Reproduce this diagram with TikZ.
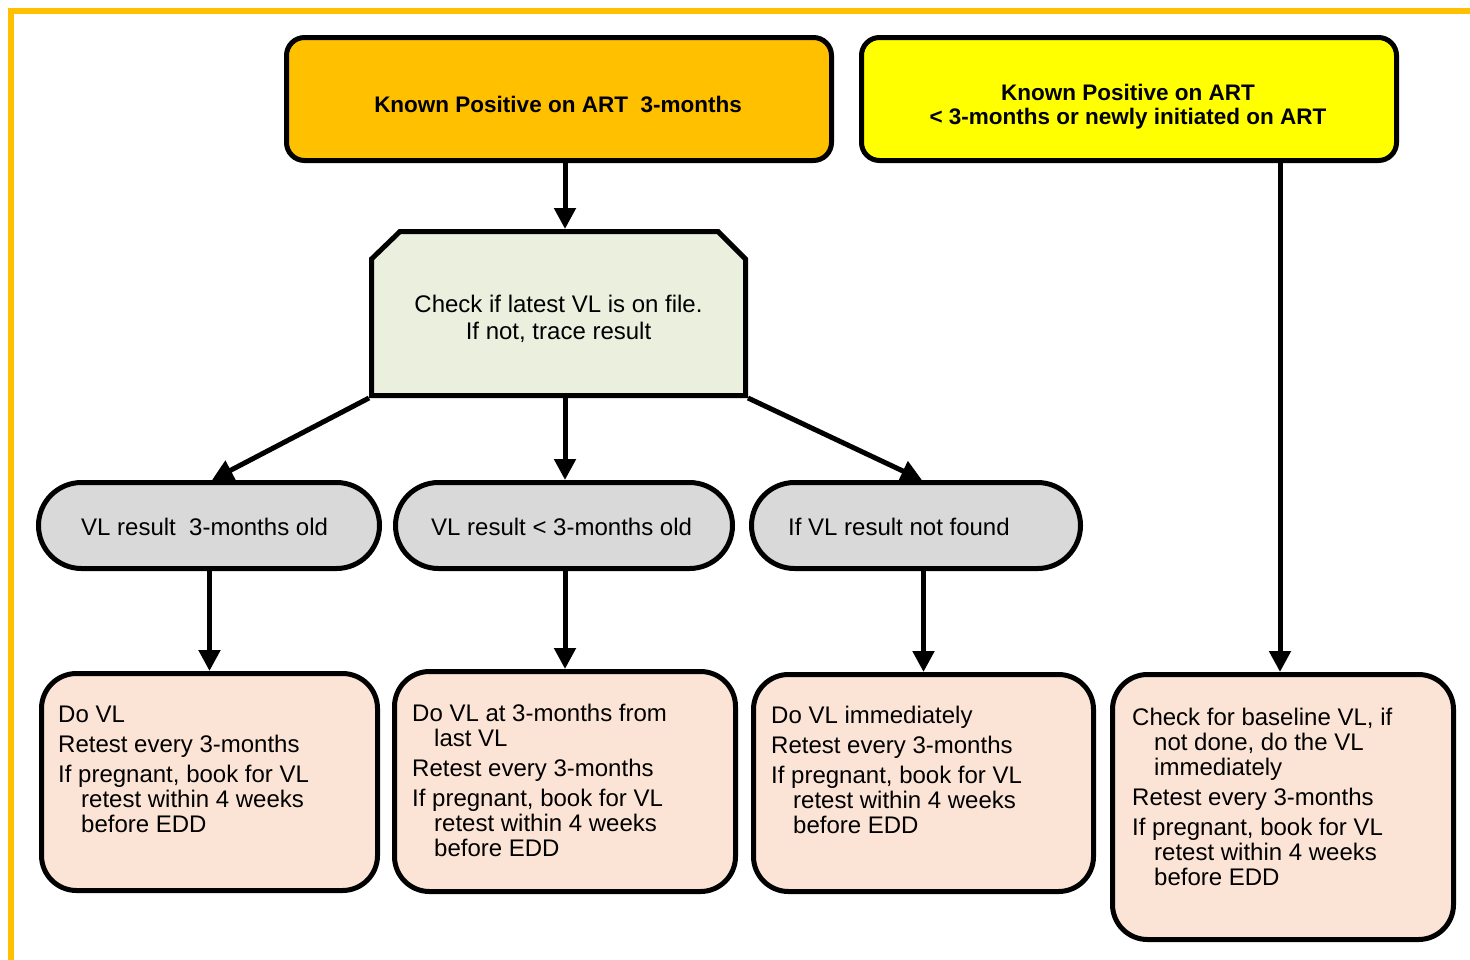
\documentclass[tikz,border=0pt]{standalone}
\usepackage{fontspec}
\setmainfont{Liberation Sans}
\usetikzlibrary{arrows.meta,calc}
\definecolor{frameorange}{HTML}{FFC000}
\definecolor{boxorange}{HTML}{FFC000}
\definecolor{boxyellow}{HTML}{FFFF00}
\definecolor{boxgreen}{HTML}{EBEFDE}
\definecolor{pillgrey}{HTML}{D9D9D9}
\definecolor{boxpeach}{HTML}{FBE4D5}
\tikzset{
  topbox/.style={draw=black, line width=5pt, rounded corners=18pt, minimum width=#1, minimum height=123pt, inner sep=0pt},
  pill/.style={draw=black, line width=5pt, fill=pillgrey, rounded corners=43pt, minimum width=#1, minimum height=86pt, inner sep=0pt},
  actbox/.style={draw=black, line width=5pt, fill=boxpeach, rounded corners=35pt, inner sep=0pt},
  conn/.style={line width=5pt, -{Triangle[length=21pt,width=21pt]}},
  boldtxt/.style={font=\fontsize{22.5}{27}\selectfont\bfseries, inner sep=0pt},
  bodytxt/.style={font=\fontsize{24}{25}\selectfont, inner sep=0pt},
}
\begin{document}
\begin{tikzpicture}[x=1pt,y=-1pt]
\useasboundingbox (0,0) rectangle (1470,959);
% frame
\draw[frameorange, line width=6pt] (10.5,965) -- (10.5,10.5) -- (1475,10.5);

% top boxes
\node[topbox=545pt, fill=boxorange] (a) at (559,99) {};
\node[boldtxt] (atxt) at (558,104) {Known Positive on ART\ \ 3-months};
\node[topbox=535pt, fill=boxyellow] (b) at (1129,99) {};
\node[boldtxt] (btxt1) at (1128,92) {Known Positive on ART};
\node[boldtxt] (btxt2) at (1128,119) {< 3-months or newly initiated on ART};

% check box (chamfered top corners)
\filldraw[fill=boxgreen, draw=black, line width=5pt, line join=miter]
  (371.5,395.5) -- (371.5,259) -- (400,231.5) -- (718,231.5) -- (745.5,259) -- (745.5,395.5) -- cycle;
\node[line width=5pt, minimum width=374pt, minimum height=164pt, inner sep=0pt] (c) at (558.5,313.5) {};
\node[bodytxt] (ctxt1) at (558.5,304) {Check if latest VL is on file.};
\node[bodytxt] (ctxt2) at (558.5,332) {If not, trace result};

% pills
\node[pill=341pt] (d1) at (209,525.5) {};
\node[pill=337pt] (d2) at (564,525.5) {};
\node[pill=329pt] (d3) at (916,525.5) {};
\node[bodytxt, anchor=base west] (d1t) at (81,535) {VL result\ \ 3-months old};
\node[bodytxt, anchor=base west] (d2t) at (431,535) {VL result < 3-months old};
\node[bodytxt, anchor=base west] (d3t) at (788,535) {If VL result not found};

% action boxes
\node[actbox, minimum width=336pt, minimum height=217pt] (e1) at (209.5,782) {};
\node[actbox, minimum width=341pt, minimum height=220pt] (e2) at (565,781.5) {};
\node[actbox, minimum width=340pt, minimum height=217pt] (e3) at (923.5,783) {};
\node[actbox, minimum width=341pt, minimum height=265pt] (e4) at (1283,807) {};

\node[bodytxt, anchor=base west] (e1t) at (58,722) {\vtop{\hsize=320pt\parindent=0pt\parskip=5pt\baselineskip=25pt
Do VL\par
Retest every 3-months\par
If pregnant, book for VL\\\hspace*{23pt}retest within 4 weeks\\\hspace*{23pt}before EDD\par}};
\node[bodytxt, anchor=base west] (e2t) at (412,721) {\vtop{\hsize=320pt\parindent=0pt\parskip=5pt\baselineskip=25pt
Do VL at 3-months from\\\hspace*{22pt}last VL\par
Retest every 3-months\par
If pregnant, book for VL\\\hspace*{22pt}retest within 4 weeks\\\hspace*{22pt}before EDD\par}};
\node[bodytxt, anchor=base west] (e3t) at (771,723) {\vtop{\hsize=320pt\parindent=0pt\parskip=5pt\baselineskip=25pt
Do VL immediately\par
Retest every 3-months\par
If pregnant, book for VL\\\hspace*{22pt}retest within 4 weeks\\\hspace*{22pt}before EDD\par}};
\node[bodytxt, anchor=base west] (e4t) at (1132,725) {\vtop{\hsize=320pt\parindent=0pt\parskip=5pt\baselineskip=25pt
Check for baseline VL, if\\\hspace*{22pt}not done, do the VL\\\hspace*{22pt}immediately\par
Retest every 3-months\par
If pregnant, book for VL\\\hspace*{22pt}retest within 4 weeks\\\hspace*{22pt}before EDD\par}};

% connectors
\draw[conn] (a.south -| e2.north) -- (c.north -| e2.north);
\draw[conn] (c.south west) -- ($(d1.north)+(3,0)$);
\draw[conn] (c.south -| e2.north) -- (d2.north -| e2.north);
\draw[conn] (c.south east) -- ($(d3.north)+(6,0)$);
\draw[conn] (d1.south -| e1.north) -- (e1.north);
\draw[conn] (d2.south -| e2.north) -- (e2.north);
\draw[conn] (d3.south -| e3.north) -- (e3.north);
\draw[conn] (b.south -| 1280,0) -- (1280,0 |- e4.north);
\end{tikzpicture}
\end{document}
